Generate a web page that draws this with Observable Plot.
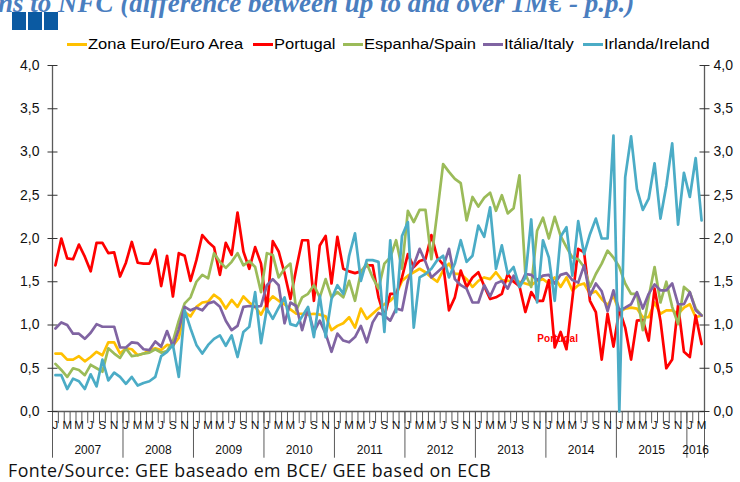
<!DOCTYPE html>
<html><head><meta charset="utf-8">
<script src="https://cdn.jsdelivr.net/npm/d3@7"></script>
<script src="https://cdn.jsdelivr.net/npm/@observablehq/plot@0.6"></script>
<style>
body{margin:0;background:#fff;}
#wrap{position:relative;width:740px;height:482px;overflow:hidden;background:#fff;font-family:"Liberation Sans",Arial,sans-serif;}
#wrap svg{position:absolute;left:0;top:0;}
.title{position:absolute;left:-2px;top:-10px;font:italic bold 27px "Liberation Serif",serif;color:#4a7ebf;white-space:nowrap;line-height:27px;}
.sq{position:absolute;top:12px;width:14px;height:18px;background:#0b5aa2;}
.leg{position:absolute;top:36px;height:16px;font-size:14px;line-height:16px;white-space:nowrap;color:#000;}
.leg .dash{position:absolute;top:7px;height:3px;width:20px;}
.leg .lbl{position:absolute;left:21px;top:0;transform:scaleX(1.18);transform-origin:left center;}
.src{position:absolute;left:8px;top:462.5px;font:17.8px "Open Sans",sans-serif;letter-spacing:0.5px;line-height:14px;height:14px;color:#111;white-space:nowrap;}
</style></head><body><div id="wrap"></div><script>
// ---- data (Jan 2007 .. Mar 2016, monthly) ----
const yearLabels = ["2007","2008","2009","2010","2011","2012","2013","2014","2015","2016"];
const monthLetters = ["J","F","M","A","M","J","J","A","S","O","N","D"];
const yTicks = [0, 0.5, 1, 1.5, 2, 2.5, 3, 3.5, 4];
const seriesNames = ["Zona Euro/Euro Area", "Portugal", "Espanha/Spain", "Itália/Italy", "Irlanda/Ireland"];
const seriesColors = ["#FFC000", "#FF0000", "#9BBB59", "#8064A2", "#4BACC6"];

const euroArea = [
0.67,0.67,0.60,0.60,0.64,0.58,0.63,0.69,0.65,0.80,
0.80,0.67,0.73,0.72,0.65,0.67,0.71,0.73,0.71,0.77,
0.76,0.85,1.15,1.10,1.21,1.26,1.27,1.35,1.30,1.19,
1.29,1.21,1.33,1.26,1.21,1.12,1.25,1.33,1.28,1.24,
1.18,1.13,1.13,1.12,1.13,1.12,1.10,0.94,0.99,1.02,
1.09,0.97,1.19,1.07,1.13,1.19,1.24,1.28,1.35,1.51,
1.57,1.61,1.65,1.61,1.55,1.50,1.63,1.71,1.59,1.59,
1.53,1.44,1.51,1.55,1.53,1.61,1.52,1.51,1.51,1.50,
1.48,1.46,1.51,1.53,1.48,1.55,1.44,1.55,1.40,1.46,
1.48,1.36,1.39,1.30,1.23,1.34,1.15,1.19,1.20,1.19,
1.09,1.09,1.26,1.13,1.17,1.17,1.13,1.20,1.24,1.09,1.11];

const portugal = [
1.69,2.00,1.77,1.76,1.93,1.79,1.62,1.95,1.95,1.83,
1.84,1.56,1.72,1.96,1.72,1.71,1.71,1.87,1.45,1.80,
1.33,1.83,1.80,1.51,1.75,2.04,1.96,1.90,1.58,1.95,
1.81,2.30,1.85,1.65,1.90,1.71,1.17,1.97,1.85,1.60,
1.30,1.65,1.98,1.98,1.28,1.92,2.03,1.48,2.02,1.65,
1.62,1.60,1.62,1.69,1.69,1.32,1.10,1.36,1.36,1.55,
1.82,1.67,1.74,1.76,2.04,1.78,1.70,1.17,1.32,1.63,
1.44,1.55,1.61,1.45,1.30,1.32,1.36,1.59,1.50,1.45,
1.15,1.38,1.28,1.28,1.52,0.74,0.92,0.72,1.30,1.88,
1.84,1.28,1.15,0.60,1.13,0.75,1.18,0.97,0.60,1.05,
1.06,0.82,1.42,1.05,0.50,0.60,1.23,0.69,0.63,1.11,0.78];

const spain = [
0.55,0.48,0.40,0.50,0.48,0.42,0.54,0.50,0.46,0.73,
0.67,0.62,0.73,0.64,0.65,0.67,0.68,0.72,0.68,0.70,
0.81,1.05,1.25,1.32,1.50,1.58,1.54,1.83,1.73,1.66,
1.73,1.83,1.69,1.74,1.67,1.38,1.83,1.81,1.55,1.65,
1.71,1.17,1.32,1.36,1.46,1.32,1.53,1.32,1.38,1.32,
1.51,1.28,1.61,1.71,1.55,1.42,1.71,1.78,1.98,1.65,
2.32,2.19,2.33,2.33,1.76,2.30,2.86,2.77,2.69,2.64,
2.21,2.48,2.37,2.47,2.53,2.32,2.50,2.29,2.35,2.73,
1.59,1.44,2.09,2.24,2.00,2.25,2.03,1.90,1.78,1.76,
1.67,1.44,1.59,1.71,1.86,1.78,1.67,1.48,1.36,1.36,
0.94,1.32,1.67,1.26,1.50,1.21,1.01,1.44,1.38,1.19,1.11];

const italy = [
0.96,1.03,1.00,0.90,0.90,0.84,0.91,1.01,0.98,0.98,
0.98,0.74,0.74,0.80,0.79,0.72,0.71,0.81,0.75,0.93,
0.75,0.95,1.21,1.17,1.20,1.17,1.25,1.27,1.21,1.05,
0.94,0.99,1.21,1.22,1.21,1.22,1.46,1.53,1.46,1.02,
1.26,1.22,0.94,1.19,0.92,1.05,0.90,0.69,0.90,0.82,
0.80,0.86,0.99,0.80,1.03,1.14,1.11,1.05,1.19,1.17,
1.51,1.69,1.88,1.73,1.55,1.61,1.67,1.88,1.53,1.46,
1.42,1.26,1.26,1.46,1.33,1.48,1.51,1.42,1.57,1.44,
1.59,1.58,1.52,1.57,1.58,1.48,1.58,1.60,1.52,1.49,
1.69,1.34,1.48,1.39,1.16,1.40,1.17,1.20,1.24,1.38,
1.19,1.36,1.47,1.40,1.40,1.48,1.24,1.24,1.38,1.17,1.11];

const ireland = [
0.42,0.42,0.26,0.38,0.35,0.26,0.43,0.29,0.60,0.36,
0.45,0.40,0.32,0.40,0.30,0.33,0.35,0.40,0.64,0.69,
0.77,0.40,1.17,0.96,0.77,0.67,0.77,0.84,0.88,0.76,
0.88,0.63,0.92,0.98,1.38,0.79,1.19,1.07,1.20,1.32,
1.01,0.99,1.10,1.21,0.86,1.34,0.86,1.30,1.46,1.36,
1.80,2.06,1.51,1.75,1.75,1.73,0.92,1.98,1.15,2.03,
2.19,0.97,1.55,1.59,1.65,1.75,1.80,1.55,1.71,1.98,
1.73,1.80,2.15,2.02,2.36,1.65,1.92,1.59,1.67,1.44,
1.55,2.22,1.26,1.98,1.78,1.28,2.02,2.13,1.57,2.20,
1.82,2.05,2.23,2.00,2.00,3.19,0.00,2.71,3.18,2.57,
2.33,2.46,2.87,2.23,2.61,3.10,2.16,2.76,2.48,2.93,2.21];

const seriesValues = [euroArea, portugal, spain, italy, ireland];
const annotation = {text: "Portugal", month: 86.0, value: 0.84};
const titleText = "ns to NFC (difference between up to and over 1M€ - p.p.)";
const sourceText = "Fonte/Source: GEE baseado em BCE/ GEE based on ECB";

// ---- derived tables ----
const nMonths = euroArea.length;
const rows = seriesNames.map((name, k) => seriesValues[k].map((v, i) => ({name, i: i + 0.5, v})));
const boundaries = d3.range(0, nMonths + 1);
const yearStarts = d3.range(0, nMonths, 12);
const monthLabs = d3.range(0, nMonths).filter(i => i % 2 === 0).map(i => ({i: i + 0.5, t: monthLetters[i % 12]}));
const yearLabs = yearLabels.map((t, k) => ({t, x: (k * 12 + Math.min(k * 12 + 12, nMonths)) / 2}));
const fmt = d => d.toFixed(1).replace(".", ",");
const axisColor = "#5a5a5a";

const marks = [
  Plot.ruleY([0], {x1: 0, x2: nMonths, stroke: axisColor, strokeWidth: 1.3}),
  Plot.ruleX(boundaries, {x: d => d, y1: -0.14, y2: 0, stroke: axisColor, strokeWidth: 1}),
  Plot.ruleX(yearStarts.concat([nMonths]), {x: d => d, y1: -0.54, y2: 0, stroke: axisColor, strokeWidth: 1}),
  Plot.ruleX([0, nMonths], {x: d => d, y1: 0, y2: 4, stroke: axisColor, strokeWidth: 1.3}),
  Plot.link(yTicks, {x1: -0.85, x2: 0.85, y1: d => d, y2: d => d, stroke: "#333", strokeWidth: 1}),
  Plot.link(yTicks, {x1: nMonths - 0.85, x2: nMonths + 0.85, y1: d => d, y2: d => d, stroke: "#333", strokeWidth: 1}),
  Plot.text(yTicks, {x: 0, y: d => d, text: fmt, textAnchor: "end", dx: -13, fontSize: 14, fill: "#111"}),
  Plot.text(yTicks, {x: nMonths, y: d => d, text: fmt, textAnchor: "start", dx: 9, fontSize: 14, fill: "#111"}),
  Plot.text(monthLabs, {x: "i", y: -0.155, text: "t", fontSize: 11.5, fill: "#111"}),
  Plot.text(yearLabs, {x: "x", y: -0.445, text: "t", fontSize: 12, fill: "#111"}),
  ...rows.map((r, k) => Plot.line(r, {x: "i", y: "v", stroke: seriesColors[k], strokeWidth: 2.7, strokeLinejoin: "round"})),
  Plot.text([annotation], {x: "month", y: "value", text: "text", fill: "#FF0000", fontWeight: "bold", fontSize: 10})
];

const chart = Plot.plot({
  width: 740, height: 482,
  marginTop: 65, marginBottom: 71, marginLeft: 52, marginRight: 36,
  x: {domain: [0, nMonths], axis: null},
  y: {domain: [0, 4], axis: null},
  style: {background: "transparent", fontFamily: "'Liberation Sans', Arial, sans-serif", overflow: "visible"},
  marks
});

const wrap = document.getElementById("wrap");
wrap.appendChild(chart);

const title = document.createElement("div");
title.className = "title"; title.textContent = titleText; wrap.appendChild(title);
[12, 28, 44].forEach(x => { const s = document.createElement("div"); s.className = "sq"; s.style.left = x + "px"; wrap.appendChild(s); });

const legendX = [67, 253, 343, 483, 583];
seriesNames.forEach((n, k) => {
  const it = document.createElement("div"); it.className = "leg"; it.style.left = legendX[k] + "px";
  const d = document.createElement("div"); d.className = "dash"; d.style.background = seriesColors[k];
  const l = document.createElement("div"); l.className = "lbl"; l.textContent = n;
  it.appendChild(d); it.appendChild(l); wrap.appendChild(it);
});

const src = document.createElement("div"); src.className = "src"; src.textContent = sourceText; wrap.appendChild(src);
</script></body></html>
